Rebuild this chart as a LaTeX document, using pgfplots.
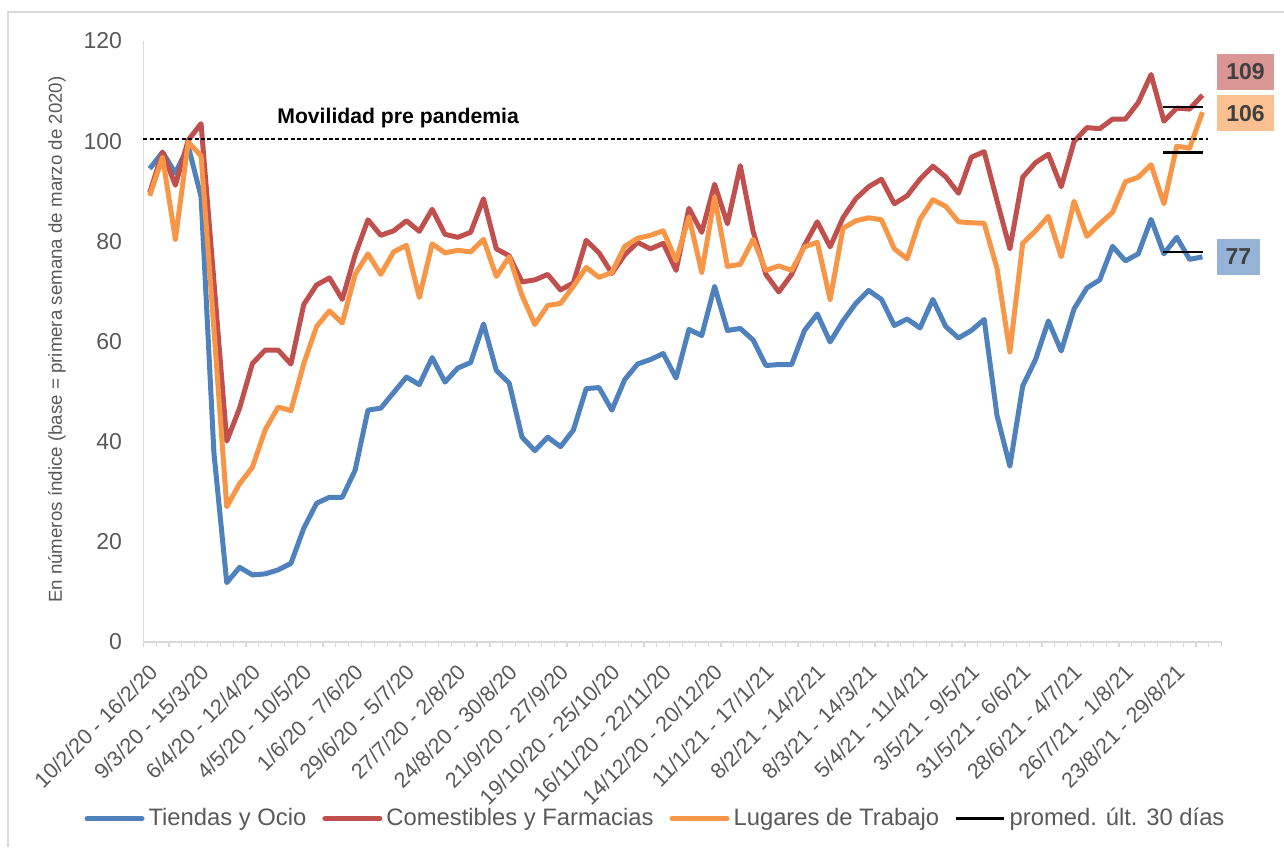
\documentclass[border=0pt]{standalone}
\usepackage{fontspec}
\setmainfont{Liberation Sans}
\usepackage{pgfplots}
\pgfplotsset{compat=1.18}
\usepackage{pgfplotstable}

\definecolor{cblue}{HTML}{4F81BD}
\definecolor{cred}{HTML}{C0504D}
\definecolor{corange}{HTML}{F79646}
\definecolor{bred}{HTML}{D99694}
\definecolor{borange}{HTML}{FAC090}
\definecolor{bblue}{HTML}{95B3D7}
\definecolor{axisgray}{HTML}{D9D9D9}
\definecolor{labelgray}{HTML}{595959}
\definecolor{valgray}{HTML}{404040}

\pgfplotsset{avgleg/.style={legend image code/.code={\draw[black, line width=1.3pt] (0pt,0pt) -- (24pt,0pt);}}}

\pgfplotstableread{
i t c l
0 94.5 89.7 89.1
1 97.8 97.8 96.8
2 93.6 91.2 80.4
3 99.0 100.2 99.8
4 88.9 103.5 97.1
5 37.8 72.0 62.5
6 11.85 40.1 27.0
7 14.9 46.7 31.6
8 13.4 55.6 34.9
9 13.6 58.3 42.4
10 14.4 58.3 46.9
11 15.7 55.5 46.2
12 22.7 67.4 55.6
13 27.7 71.3 63.0
14 28.9 72.7 66.1
15 28.9 68.4 63.7
16 34.3 77.3 73.4
17 46.3 84.3 77.5
18 46.7 81.2 73.4
19 49.8 82.1 77.9
20 52.9 84.1 79.2
21 51.4 82.0 68.8
22 56.8 86.4 79.5
23 51.9 81.4 77.7
24 54.7 80.8 78.2
25 55.8 81.8 77.9
26 63.5 88.5 80.4
27 54.2 78.5 73.0
28 51.7 77.1 76.9
29 40.9 71.9 69.2
30 38.2 72.3 63.4
31 40.9 73.4 67.2
32 39.0 70.3 67.6
33 42.3 71.7 71.0
34 50.6 80.2 74.8
35 50.8 77.7 72.8
36 46.3 73.6 73.8
37 52.4 77.3 79.0
38 55.5 79.8 80.6
39 56.4 78.5 81.2
40 57.6 79.6 82.1
41 52.7 74.2 76.1
42 62.4 86.6 84.9
43 61.2 81.8 73.8
44 71.0 91.4 88.8
45 62.2 83.5 75.0
46 62.6 95.1 75.4
47 60.3 82.0 80.4
48 55.2 73.4 74.2
49 55.4 69.9 75.1
50 55.4 73.4 74.2
51 62.2 79.2 78.9
52 65.5 83.9 79.8
53 59.9 78.9 68.4
54 64.1 84.7 82.6
55 67.6 88.5 84.1
56 70.2 90.9 84.7
57 68.4 92.4 84.3
58 63.2 87.5 78.5
59 64.5 89.1 76.5
60 62.7 92.4 84.4
61 68.4 95.0 88.3
62 63.0 92.9 87.0
63 60.7 89.6 83.9
64 62.2 96.8 83.7
65 64.4 97.9 83.6
66 45.2 88.1 74.6
67 35.1 78.5 57.9
68 51.1 92.8 79.6
69 56.4 95.7 82.1
70 64.1 97.4 85.0
71 58.1 90.9 76.9
72 66.5 99.9 88.0
73 70.7 102.7 81.0
74 72.3 102.5 83.5
75 79.0 104.4 85.8
76 76.1 104.4 91.9
77 77.5 107.7 92.8
78 84.4 113.3 95.3
79 77.5 104.0 87.5
80 80.8 106.6 99.0
81 76.4 106.4 98.6
82 76.9 109.2 105.8
}\mydata

\begin{document}
\begin{tikzpicture}
\draw[color=axisgray, line width=0.75pt] (4pt,0pt) -- (4pt,417.5pt) -- (642pt,417.5pt);
\begin{axis}[
  at={(71.65pt,102.5pt)}, anchor=south west,
  scale only axis, width=539.2pt, height=300.5pt,
  xmin=-0.5, xmax=83.5, ymin=0, ymax=120,
  clip=false,
  axis x line*=bottom, axis y line*=left,
  x axis line style={color=axisgray, line width=0.75pt, -},
  y axis line style={color=axisgray, line width=0.75pt, -},
  ytick={0,20,...,120},
  xtick={0,4,...,80},
  xticklabels={10/2/20 - 16/2/20, 9/3/20 - 15/3/20, 6/4/20 - 12/4/20, 4/5/20 - 10/5/20, 1/6/20 - 7/6/20, 29/6/20 - 5/7/20, 27/7/20 - 2/8/20, 24/8/20 - 30/8/20, 21/9/20 - 27/9/20, 19/10/20 - 25/10/20, 16/11/20 - 22/11/20, 14/12/20 - 20/12/20, 11/1/21 - 17/1/21, 8/2/21 - 14/2/21, 8/3/21 - 14/3/21, 5/4/21 - 11/4/21, 3/5/21 - 9/5/21, 31/5/21 - 6/6/21, 28/6/21 - 4/7/21, 26/7/21 - 1/8/21, 23/8/21 - 29/8/21},
  minor xtick={-0.5,0.5,...,83.5},
  major tick length=0pt, minor tick length=2.5pt, tick align=outside,
  minor tick style={color=axisgray, line width=0.6pt},
  /pgf/number format/assume math mode=true,
  yticklabel style={font=\fontsize{11.5}{13}\selectfont, text=labelgray, anchor=east, inner sep=0pt, xshift=-10.5pt},
  xticklabel style={font=\fontsize{10.8}{13}\selectfont, text=labelgray, inner sep=0pt, xshift=2pt, yshift=-13pt, rotate=45, anchor=east},
  ylabel={En números índice (base = primera semana de marzo de 2020)},
  ylabel style={font=\fontsize{9.35}{11}\selectfont, text=labelgray, at={(axis description cs:-0.080,0.503)}, anchor=center},
  legend columns=4,
  legend style={at={(axis description cs:0.4745,-0.294)}, anchor=center, draw=none, fill=none,
    font=\fontsize{11.9}{14}\selectfont, text=labelgray, inner sep=0pt,
    nodes={inner sep=0.5pt},
    /tikz/every odd column/.style={column sep=1.5pt},
    /tikz/every even column/.style={column sep=7.5pt}},
  legend image code/.code={\draw[#1, line cap=round] (0pt,0pt) -- (27.5pt,0pt);},
]
\addplot[cblue, line width=2.5pt, line join=round] table[x=i, y=t] {\mydata};
\addlegendentry{Tiendas y Ocio}
\addplot[cred, line width=2.5pt, line join=round] table[x=i, y=c] {\mydata};
\addlegendentry{Comestibles y Farmacias}
\addplot[corange, line width=2.5pt, line join=round] table[x=i, y=l] {\mydata};
\addlegendentry{Lugares de Trabajo}
\addplot[black, line width=1.3pt, forget plot] coordinates {(78.95,106.8) (82.07,106.8)};
\addplot[black, line width=1.3pt, forget plot] coordinates {(78.95,97.7) (82.07,97.7)};
\addplot[black, line width=1.3pt, forget plot] coordinates {(78.95,77.9) (82.07,77.9)};
\addlegendimage{avgleg}
\addlegendentry{promed. últ. 30 días}
\addplot[black, line width=0.7pt, dash pattern=on 2pt off 1.2pt, forget plot] coordinates {(-0.5,100.4) (82.4,100.4)};
\node[font=\bfseries\fontsize{10.6}{12}\selectfont, anchor=base west, inner sep=0pt] at (axis cs:9.91,103.6) {Movilidad pre pandemia};
\node[fill=bred, text=valgray, font=\bfseries\fontsize{11.5}{13}\selectfont, anchor=west, minimum height=18pt, inner xsep=4.6pt, inner ysep=0pt] at (axis cs:83.12,113.8) {109};
\node[fill=borange, text=valgray, font=\bfseries\fontsize{11.5}{13}\selectfont, anchor=west, minimum height=18pt, inner xsep=4.6pt, inner ysep=0pt] at (axis cs:83.12,105.6) {106};
\node[fill=bblue, text=valgray, font=\bfseries\fontsize{11.5}{13}\selectfont, anchor=west, minimum height=18pt, inner xsep=4.2pt, inner ysep=0pt] at (axis cs:83.12,76.9) {77};
\end{axis}
\pgfresetboundingbox
\useasboundingbox (0pt,0pt) rectangle (642pt,423.5pt);
\end{tikzpicture}
\end{document}
